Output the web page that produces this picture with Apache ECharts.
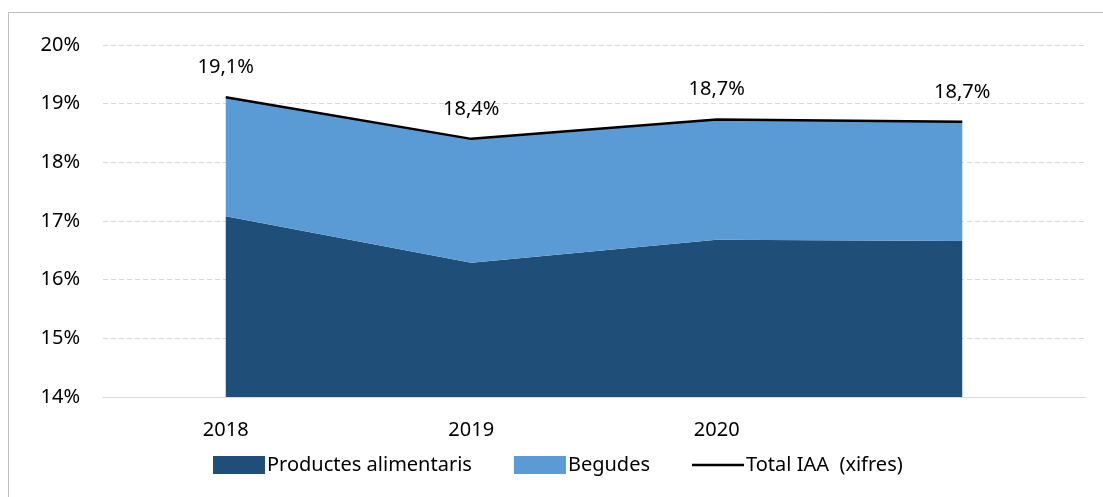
<!DOCTYPE html>
<html>
<head>
<meta charset="utf-8">
<script src="https://cdn.jsdelivr.net/npm/echarts@6/dist/echarts.min.js"></script>
<style>
html,body{margin:0;padding:0;background:#fff;}
#c{width:1103px;height:497px;}
</style>
</head>
<body>
<div id="c"></div>
<script>
const categories = ['2018', '2019', '2020', ''];
const productes = [17.08, 16.29, 16.68, 16.66];
const begudes = [2.03, 2.11, 2.05, 2.03];
const total = [19.11, 18.40, 18.73, 18.69];
const yTicks = { min: 14, max: 20, interval: 1 };

const FONT = 'Noto Sans';
const chart = echarts.init(document.getElementById('c'));
chart.setOption({
  animation: false,
  backgroundColor: '#fff',
  textStyle: { fontFamily: FONT },
  graphic: [{
    type: 'rect', silent: true, z: -10,
    shape: { x: 8.5, y: 12.5, width: 1200, height: 600 },
    style: { fill: 'none', stroke: '#BFBFBF', lineWidth: 1 }
  }],
  grid: { left: 103, right: 18, top: 45, bottom: 100 },
  legend: {
    bottom: 17, left: 208,
    itemWidth: 52, itemHeight: 18, itemGap: 42,
    textStyle: { fontFamily: FONT, fontSize: 20, color: '#000', padding: [0, 0, 0, -3] },
    data: [
      { name: 'Productes alimentaris', icon: 'rect' },
      { name: 'Begudes', icon: 'rect' },
      { name: 'Total IAA  (xifres)', icon: 'path://M0,0 L52,0 L52,2.5 L0,2.5 Z' }
    ]
  },
  xAxis: {
    type: 'category', data: categories, boundaryGap: true,
    axisLine: { lineStyle: { color: '#D9D9D9', width: 1 } },
    axisTick: { show: false },
    axisLabel: { color: '#000', fontSize: 20, fontFamily: FONT, margin: 23, interval: 0 },
    splitLine: { show: false }
  },
  yAxis: {
    type: 'value', min: yTicks.min, max: yTicks.max, interval: yTicks.interval,
    axisLine: { show: false }, axisTick: { show: false },
    axisLabel: { color: '#000', fontSize: 20, fontFamily: FONT, margin: 23, formatter: '{value}%' },
    splitLine: { lineStyle: { color: '#D9D9D9', type: [5, 3], width: 1 } }
  },
  series: [
    {
      name: 'Productes alimentaris', type: 'line', stack: 's', data: productes,
      symbol: 'none', lineStyle: { width: 0 }, itemStyle: { color: '#1F4E79' },
      areaStyle: { color: '#1F4E79', opacity: 1 }
    },
    {
      name: 'Begudes', type: 'line', stack: 's', data: begudes,
      symbol: 'none', lineStyle: { width: 0 }, itemStyle: { color: '#5B9BD5' },
      areaStyle: { color: '#5B9BD5', opacity: 1 }
    },
    {
      name: 'Total IAA  (xifres)', type: 'line', data: total, z: 5,
      symbol: 'circle', symbolSize: 0, showSymbol: true,
      lineStyle: { color: '#000', width: 2.5 }, itemStyle: { color: '#000' },
      label: {
        show: true, position: 'top', distance: 20, color: '#000',
        fontSize: 20, fontFamily: FONT,
        formatter: p => p.value.toFixed(1).replace('.', ',') + '%'
      }
    }
  ]
});
</script>
</body>
</html>
